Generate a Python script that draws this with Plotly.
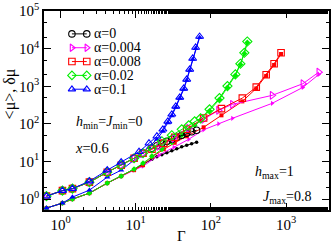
import plotly.graph_objects as go

# ---------------- data ----------------
alpha_labels = ["α=0", "α=0.004", "α=0.008", "α=0.02", "α=0.1"]

gamma_a0 = [0.65, 1.06, 1.44, 2.42, 4.18, 6.40, 9.50, 12.5, 16.4, 19.1, 22.2, 25.9, 30.2, 35.1, 40.9, 47.6, 55.4, 64.5]
mu_a0 = [1.20, 1.68, 1.90, 2.82, 5.20, 7.98, 12.2, 16.6, 22.5, 26.3, 30.6, 34.5, 39.0, 44.2, 49.9, 56.3, 61.7, 67.7]
dmu_a0 = [0.577, 0.783, 1.0, 1.44, 2.66, 4.07, 6.25, 8.48, 11.5, 13.4, 15.1, 17.1, 19.3, 21.9, 24.7, 27.1, 29.7, 32.5]

gamma_a0004 = [0.65, 1.06, 1.44, 2.42, 4.18, 6.40, 9.50, 12.5, 20.3, 32.1, 50.6, 79.9, 126.0, 192.9, 651, 1672, 2720]
mu_a0004 = [1.20, 1.68, 1.90, 2.82, 5.20, 7.98, 12.2, 16.6, 25.5, 41.5, 76.4, 132.4, 229.5, 331, 574, 1172, 2381]
dmu_a0004 = [0.577, 0.783, 1.0, 1.44, 2.66, 4.07, 5.88, 7.5, 14.7, 23.9, 39.0, 69.7, 100.6, 140.8, 352, 935, 2070]

gamma_a0008 = [0.65, 1.06, 1.44, 2.42, 4.18, 6.40, 9.50, 12.5, 16.42, 23.6, 33.0, 47.6, 79.9, 138.0, 261.5, 400.4, 542.7, 692, 856]
mu_a0008 = [1.20, 1.68, 1.90, 2.82, 5.20, 7.98, 12.2, 16.6, 21.2, 30.6, 44.2, 71.9, 143.4, 254.6, 486, 953, 2031, 3980, 7790]
dmu_a0008 = [0.577, 0.783, 1.0, 1.44, 2.66, 4.07, 5.88, 7.98, 13.4, 21.2, 31.5, 46.9, 81.2, 169, 397, 880, 1888, 3697, 7230]

gamma_a002 = [0.65, 1.06, 1.44, 2.42, 4.18, 6.40, 9.50, 12.5, 16.42, 22.26, 30.17, 40.89, 50.6, 60.7, 72.9, 95.8, 129.9, 165.7, 211.3, 246.1, 277.9, 304.5]
mu_a002 = [1.20, 1.68, 1.90, 2.82, 5.20, 7.98, 12.2, 16.6, 22.5, 34.6, 49.9, 71.9, 91.8, 117, 140.8, 244, 486, 1012, 2070, 3980, 7790, 15530]
dmu_a002 = [0.577, 0.783, 1.0, 1.44, 2.66, 4.07, 6.25, 9.02, 13.8, 21.2, 32.5, 49.9, 67.7, 91.8, 124.6, 222.6, 449, 935, 1946, 3810, 7460, 14600]

gamma_a01 = [0.65, 1.06, 1.44, 2.42, 4.18, 6.40, 11.06, 14.99, 19.11, 22.94, 26.71, 30.17, 34.07, 38.48, 43.45, 47.61, 52.17, 57.15, 62.60, 70.69]
mu_a01 = [1.20, 1.68, 1.90, 3.00, 5.88, 9.58, 18.2, 30.6, 46.9, 71.9, 117, 180, 293, 508, 880, 1524, 2806, 5495, 10760, 21080]
dmu_a01 = [0.577, 0.783, 1.13, 1.73, 3.83, 5.88, 13.8, 23.9, 39.0, 63.7, 107, 164, 275, 478, 827, 1432, 2641, 5170, 10120, 19800]

x_tick_vals = [1, 10, 100, 1000]
x_tick_text = ["10<sup>0</sup>", "10<sup>1</sup>", "10<sup>2</sup>", "10<sup>3</sup>"]
y_tick_vals = [1, 10, 100, 1000, 10000, 100000]
y_tick_text = ["10<sup>0</sup>", "10<sup>1</sup>", "10<sup>2</sup>", "10<sup>3</sup>", "10<sup>4</sup>", "10<sup>5</sup>"]

# ---------------- styles ----------------
FONT = "Liberation Serif"
series = [
    (gamma_a0, mu_a0, dmu_a0, "#000000", "circle-open", "circle", 6.5, 3.5),
    (gamma_a0004, mu_a0004, dmu_a0004, "#ff00ff", "triangle-right-open", "triangle-right", 7, 4.5),
    (gamma_a0008, mu_a0008, dmu_a0008, "#ff0000", "square-open", "square", 6.5, 4),
    (gamma_a002, mu_a002, dmu_a002, "#00ee00", "diamond-open", "diamond", 7, 4.5),
    (gamma_a01, mu_a01, dmu_a01, "#0000ff", "triangle-up-open", "triangle-up", 7, 5.5),
]

fig = go.Figure()
for g, mu, dmu, col, sym_o, sym_f, so, sf in series:
    fig.add_trace(go.Scatter(x=g, y=dmu, mode="lines+markers",
                             line=dict(color=col, width=1),
                             marker=dict(symbol=sym_f, size=sf, color=col),
                             showlegend=False))
for g, mu, dmu, col, sym_o, sym_f, so, sf in series:
    fig.add_trace(go.Scatter(x=g, y=mu, mode="lines+markers",
                             line=dict(color=col, width=1),
                             marker=dict(symbol=sym_o, size=so, color=col, line=dict(width=1.1, color=col)),
                             showlegend=False))

# custom legend (overlay axis in [0,1] units of the plot area)
leg_x0, leg_x1, leg_tx = 0.098, 0.150, 0.168
leg_top, leg_step = 0.885, 0.0695
annotations = []
for i, (s, lab) in enumerate(zip(series, alpha_labels)):
    g, mu, dmu, col, sym_o, sym_f, so, sf = s
    yy = leg_top - i * leg_step
    fig.add_trace(go.Scatter(x=[leg_x0, leg_x1], y=[yy, yy], xaxis="x2", yaxis="y2",
                             mode="lines+markers", line=dict(color=col, width=1),
                             marker=dict(symbol=sym_o, size=6.5, color=col, line=dict(width=1.1, color=col)),
                             showlegend=False, hoverinfo="skip"))
    annotations.append(dict(x=leg_tx, y=yy, xref="x2", yref="y2", text=lab, showarrow=False,
                            xanchor="left", yanchor="middle", font=dict(family=FONT, size=14, color="black")))

annotations += [
    dict(x=0.105, y=0.44, xref="paper", yref="paper", xanchor="left", yanchor="middle", showarrow=False,
         text="<i>h</i><sub>min</sub>=<i>J</i><sub>min</sub>=0", font=dict(family=FONT, size=14, color="black")),
    dict(x=0.103, y=0.31, xref="paper", yref="paper", xanchor="left", yanchor="middle", showarrow=False,
         text="<i>x</i>=0.6", font=dict(family=FONT, size=14.5, color="black")),
    dict(x=0.735, y=0.19, xref="paper", yref="paper", xanchor="left", yanchor="middle", showarrow=False,
         text="<i>h</i><sub>max</sub>=1", font=dict(family=FONT, size=14, color="black")),
    dict(x=0.76, y=0.065, xref="paper", yref="paper", xanchor="left", yanchor="middle", showarrow=False,
         text="<i>J</i><sub>max</sub>=0.8", font=dict(family=FONT, size=14, color="black")),
    dict(x=-0.12, y=0.585, xref="paper", yref="paper", xanchor="center", yanchor="middle", showarrow=False,
         textangle=-90, text="&lt;μ&gt;, δμ", font=dict(family=FONT, size=16, color="black")),
    dict(x=0.484, y=-0.13, xref="paper", yref="paper", xanchor="center", yanchor="middle", showarrow=False,
         text="Γ", font=dict(family=FONT, size=15, color="black")),
]

axis_common = dict(type="log", showline=True, linecolor="black", linewidth=1.5, mirror="allticks",
                   ticks="inside", ticklen=7, tickwidth=1, tickcolor="black", showgrid=False, zeroline=False,
                   tickfont=dict(family=FONT, size=15, color="black"),
                   minor=dict(ticks="inside", ticklen=3.5, tickwidth=1, tickcolor="black", showgrid=False))

fig.update_layout(
    width=332, height=246,
    margin=dict(l=44, r=1, t=10, b=36),
    paper_bgcolor="white", plot_bgcolor="white",
    showlegend=False,
    xaxis=dict(axis_common, range=[-0.22, 3.57], tickmode="array", tickvals=x_tick_vals, ticktext=x_tick_text),
    yaxis=dict(axis_common, range=[-0.29, 5.003], tickmode="array", tickvals=y_tick_vals, ticktext=y_tick_text),
    xaxis2=dict(overlaying="x", range=[0, 1], visible=False, anchor="y2"),
    yaxis2=dict(overlaying="y", range=[0, 1], visible=False, anchor="x2"),
    annotations=annotations,
)

fig.write_html("out.html", config={"displayModeBar": False},
               post_script="document.body.style.margin='0';document.body.style.padding='0';"
                           "document.documentElement.style.overflow='hidden';")
